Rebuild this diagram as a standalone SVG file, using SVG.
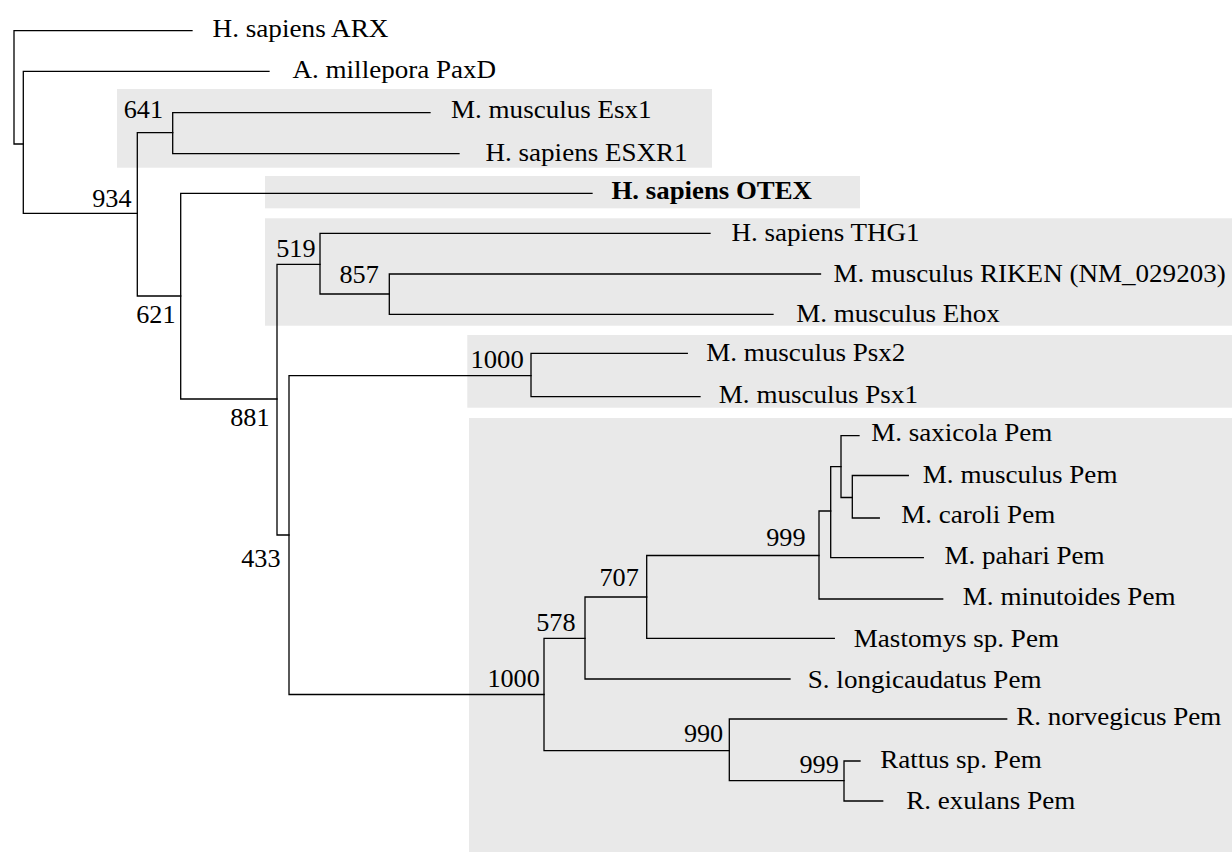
<svg xmlns="http://www.w3.org/2000/svg" width="1232" height="852" viewBox="0 0 1232 852">
<style>
.bg{fill:#e9e9e9}
.e{fill:none;stroke:#000;stroke-width:1.3;stroke-linecap:square}
</style>
<rect width="1232" height="852" fill="#fff"/>
<g id="clades">
<rect class="bg" x="117" y="89" width="595" height="78.7"/>
<rect class="bg" x="265" y="176" width="595" height="32.3"/>
<rect class="bg" x="265" y="218.3" width="967" height="107.4"/>
<rect class="bg" x="467.3" y="335" width="764.7" height="72.7"/>
<rect class="bg" x="469" y="418" width="763" height="434"/>
</g>
<g id="connectors">
<path class="e" d="M192,30.7H14V144H23.3"/>
<path class="e" d="M269,71.3H23.3V213.3H137.3"/>
<path class="e" d="M172.7,132.7H137.3V296H180.7"/>
<path class="e" d="M430,112.7H172.7V153.7H459"/>
<path class="e" d="M592,193.3H180.7V399H277"/>
<path class="e" d="M320,264.3H277V535H289"/>
<path class="e" d="M710,233.3H320V294H389.3"/>
<path class="e" d="M820.5,274H389.3V314.3H773"/>
<path class="e" d="M531,375.7H289V694.5H544"/>
<path class="e" d="M687.3,353.3H531V396.7H700"/>
<path class="e" d="M585,638.3H544V750.7H729.3"/>
<path class="e" d="M646.7,597H585V679H790"/>
<path class="e" d="M819,555.5H646.7V638.3H834.3"/>
<path class="e" d="M830.7,511H819V599H942.7"/>
<path class="e" d="M841,466.7H830.7V557.7H923.3"/>
<path class="e" d="M859,435.7H841V497.5H852.3"/>
<path class="e" d="M908.3,475.5H852.3V518H879.3"/>
<path class="e" d="M1006.7,719H729.3V780.7H844"/>
<path class="e" d="M860,761H844V801H882.7"/>
</g>
<g id="labels" font-family="Liberation Serif" font-size="24.5" fill="#000">
<g id="leaf-arx"><text transform="translate(212.5,37) scale(1.11,1)">H. sapiens ARX</text></g>
<g id="leaf-paxd"><text transform="translate(292.5,77.7) scale(1.105,1)">A. millepora PaxD</text></g>
<g id="leaf-esx1"><text transform="translate(451,117.5) scale(1.105,1)">M. musculus Esx1</text></g>
<g id="leaf-esxr1"><text transform="translate(485.5,160.5) scale(1.105,1)">H. sapiens ESXR1</text></g>
<g id="leaf-otex"><text font-weight="bold" transform="translate(611.5,199) scale(1.095,1)">H. sapiens OTEX</text></g>
<g id="leaf-thg1"><text transform="translate(731.5,240.7) scale(1.105,1)">H. sapiens THG1</text></g>
<g id="leaf-riken"><text transform="translate(833.5,282) scale(1.105,1)">M. musculus RIKEN (NM_029203)</text></g>
<g id="leaf-ehox"><text transform="translate(796.2,322) scale(1.105,1)">M. musculus Ehox</text></g>
<g id="leaf-psx2"><text transform="translate(706.2,360.5) scale(1.105,1)">M. musculus Psx2</text></g>
<g id="leaf-psx1"><text transform="translate(718.8,403) scale(1.105,1)">M. musculus Psx1</text></g>
<g id="leaf-saxicola"><text transform="translate(871.2,441) scale(1.105,1)">M. saxicola Pem</text></g>
<g id="leaf-musculus"><text transform="translate(922.8,482.7) scale(1.105,1)">M. musculus Pem</text></g>
<g id="leaf-caroli"><text transform="translate(901.2,523) scale(1.105,1)">M. caroli Pem</text></g>
<g id="leaf-pahari"><text transform="translate(944.5,564) scale(1.105,1)">M. pahari Pem</text></g>
<g id="leaf-minutoides"><text transform="translate(962.8,605) scale(1.105,1)">M. minutoides Pem</text></g>
<g id="leaf-mastomys"><text transform="translate(853.8,646.5) scale(1.105,1)">Mastomys sp. Pem</text></g>
<g id="leaf-slongicaudatus"><text transform="translate(807.8,687.5) scale(1.105,1)">S. longicaudatus Pem</text></g>
<g id="leaf-norvegicus"><text transform="translate(1016.2,725) scale(1.105,1)">R. norvegicus Pem</text></g>
<g id="leaf-rattus"><text transform="translate(880.2,767.7) scale(1.105,1)">Rattus sp. Pem</text></g>
<g id="leaf-exulans"><text transform="translate(906.2,809) scale(1.105,1)">R. exulans Pem</text></g>
<g id="node-641"><text text-anchor="end" transform="translate(163,118) scale(1.07,1)">641</text></g>
<g id="node-934"><text text-anchor="end" transform="translate(131.5,206.7) scale(1.07,1)">934</text></g>
<g id="node-621"><text text-anchor="end" transform="translate(175.5,322.7) scale(1.07,1)">621</text></g>
<g id="node-881"><text text-anchor="end" transform="translate(269.5,426) scale(1.07,1)">881</text></g>
<g id="node-519"><text text-anchor="end" transform="translate(315.5,257.3) scale(1.07,1)">519</text></g>
<g id="node-857"><text text-anchor="end" transform="translate(378.8,283.3) scale(1.07,1)">857</text></g>
<g id="node-1000a"><text text-anchor="end" transform="translate(523.8,368.3) scale(1.09,1)">1000</text></g>
<g id="node-433"><text text-anchor="end" transform="translate(280.5,566.7) scale(1.07,1)">433</text></g>
<g id="node-999a"><text text-anchor="end" transform="translate(805.5,546) scale(1.07,1)">999</text></g>
<g id="node-707"><text text-anchor="end" transform="translate(638.8,586) scale(1.07,1)">707</text></g>
<g id="node-578"><text text-anchor="end" transform="translate(575.5,631) scale(1.07,1)">578</text></g>
<g id="node-1000b"><text text-anchor="end" transform="translate(539.8,687.3) scale(1.07,1)">1000</text></g>
<g id="node-990"><text text-anchor="end" transform="translate(723.2,741.7) scale(1.07,1)">990</text></g>
<g id="node-999b"><text text-anchor="end" transform="translate(838.8,773.3) scale(1.07,1)">999</text></g>
</g>
</svg>
